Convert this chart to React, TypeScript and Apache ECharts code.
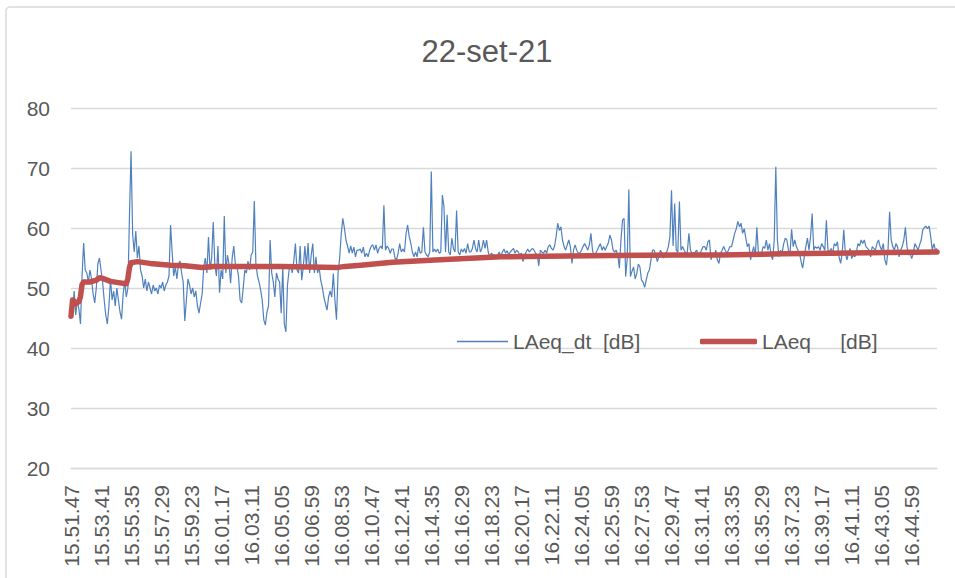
import React, { useEffect, useRef } from "react";
import * as echarts from "echarts";

const titleText = "22-set-21";
const seriesBlueName = "LAeq_dt  [dB]";
const seriesRedName = "LAeq     [dB]";
const STEP = 6; // seconds between blue samples
const TICK_STEP = 114; // seconds between x labels

const tickLabels = [
  "15.51.47", "15.53.41", "15.55.35", "15.57.29", "15.59.23", "16.01.17", "16.03.11", "16.05.05",
  "16.06.59", "16.08.53", "16.10.47", "16.12.41", "16.14.35", "16.16.29", "16.18.23", "16.20.17",
  "16.22.11", "16.24.05", "16.25.59", "16.27.53", "16.29.47", "16.31.41", "16.33.35", "16.35.29",
  "16.37.23", "16.39.17", "16.41.11", "16.43.05", "16.44.59",
];

const laeqDt = [
  48, 46, 49.5, 45.5, 48, 46.5, 44, 52, 57.5, 53, 52.5, 51, 53, 51.5, 49, 47.5, 50, 54, 55,
  53, 51, 48, 45.5, 44, 47, 51.5, 48, 49.5, 47, 50, 48, 46, 44.8, 49, 51, 48.5, 50, 62,
  72.8, 59, 56, 59.5, 55, 57, 53, 52, 50, 51.5, 49.5, 51, 50, 49, 50.5, 49.5, 50, 49, 50.5,
  50, 51, 49.5, 50.5, 51, 52, 60.5, 56, 52, 53.5, 51.5, 54, 54.5, 52.5, 51, 44.5, 48, 51.5, 50.5,
  49, 50, 48.5, 49.5, 47, 45.8, 47.5, 49, 53.5, 55, 52.5, 58.5, 53, 55, 61, 54, 52, 57, 49.2,
  53, 51.5, 62, 52.5, 55.5, 54, 50.8, 55, 57, 54, 53.5, 52, 48, 47.5, 50, 53, 52.5, 54.5, 53,
  55.5, 56, 64.5, 54, 52, 51, 49.7, 48, 44.7, 43.8, 46, 47, 58, 52.5, 51, 48.5, 52.5, 51.5, 51,
  45.8, 53.5, 44, 42.7, 50.5, 53, 54, 52.5, 54.5, 57.4, 53, 52.5, 57, 51.3, 53.5, 57, 53.5, 57.5, 52.5,
  55.5, 57.4, 52.5, 55.2, 52.5, 53.5, 51.3, 50.2, 48.5, 47.4, 46.3, 48.5, 49.5, 48.5, 52.4, 48, 44.7, 52.5, 55,
  59, 61.6, 60, 58, 57, 55.8, 57, 55.8, 56.8, 55.2, 56.3, 56.3, 56.5, 55.8, 56.8, 55.2, 55.8, 55.2, 56.3,
  57, 57.2, 56.3, 57.2, 55.8, 56.6, 57, 56.5, 63.8, 56.3, 57, 56.6, 55.8, 56.5, 56.5, 55, 54.7, 55.8, 57.4,
  56, 56.5, 56, 59, 60.5, 58.6, 57.5, 56, 55.2, 56, 55.2, 56.9, 55.8, 56, 60.1, 56, 55.5, 55.2, 56,
  69.4, 56, 56.5, 56, 56.5, 55.8, 56, 65.5, 63.6, 56, 62.2, 56, 55.5, 58.3, 56.6, 56, 62.9, 56, 55.5,
  56.5, 56, 56.6, 55.8, 57.4, 56, 56, 56.6, 58, 56.6, 56, 58, 56, 56.6, 58, 56.6, 58, 56, 55.2,
  55.8, 55.5, 55.5, 55.2, 55.5, 56, 55.2, 56, 56.5, 55.8, 56.2, 55.5, 56, 56.3, 56.6, 55.8, 56.3, 56, 55.5,
  55.8, 54.4, 55.5, 56, 56.5, 56, 56.3, 56.6, 56.3, 55.8, 55.5, 53.7, 56.3, 56, 55.8, 56.3, 55.8, 56.9, 57.2,
  56.6, 56.3, 57, 58.6, 60.8, 59.6, 60.2, 58, 56.9, 56.3, 57.2, 58, 56.9, 54.1, 56.3, 57.2, 56.3, 55.8, 55.8,
  56.3, 56.9, 57.4, 56.9, 56.3, 57.2, 59.1, 56.3, 55.2, 55.8, 56.3, 56.9, 57.4, 56.3, 56.9, 56.3, 56.9, 57.5, 58.8,
  58, 56.3, 56, 56.3, 55.5, 53.3, 58, 61.3, 61.6, 51.9, 55, 66.4, 51.9, 52.8, 53.5, 51.5, 52.4, 54, 53.5,
  51.3, 51, 50.1, 51.3, 52.5, 53, 54.7, 56.3, 56.3, 55.5, 54.4, 55.2, 56.3, 55.8, 55, 55.8, 56, 56.9, 58.6,
  66.3, 57, 64.1, 56.3, 56, 64.4, 56.3, 56.9, 56.3, 55.8, 56, 59.1, 56.3, 55.8, 55.8, 56, 56.3, 55.2, 55.8,
  56.3, 56.9, 56.9, 56.3, 57.7, 58, 54.7, 55.8, 55.2, 56.3, 54.7, 54.1, 55.8, 56.3, 56.9, 56.3, 55.8, 56.3, 56.9,
  56.9, 58, 59.1, 59.9, 61.1, 60.2, 60.8, 59.1, 59.9, 58.3, 56.9, 57.4, 54.7, 55.8, 56.9, 55.2, 60.1, 55.8, 55.2,
  55.8, 56.9, 56.6, 58, 56.3, 57.4, 55.5, 54.7, 58, 70.2, 58, 55.2, 56.3, 55.8, 57.4, 58.3, 58, 56.3, 55.8,
  59.8, 56.9, 58, 56.9, 56.3, 55.8, 54.4, 53.3, 55.2, 56.9, 58.3, 56.3, 58.6, 62.4, 56.3, 56.9, 56.6, 56.9, 56.3,
  57.4, 56.9, 56.3, 61.3, 56.3, 56, 56.6, 55.8, 57.4, 57, 57.7, 55.2, 54.1, 55.8, 59.7, 55.8, 54.7, 55.8, 56.6,
  54.9, 55.5, 55.2, 56, 57.4, 57, 58, 57.4, 58, 56.9, 56.6, 56.3, 55.2, 56.9, 56.6, 56.3, 57.4, 58, 56.9,
  56.3, 57.4, 54.7, 53.8, 56.3, 62.7, 58, 56.9, 56.3, 57.4, 56.9, 55.2, 56.3, 56.9, 58, 60.1, 56.9, 55.5, 55.8,
  54.9, 55.8, 57.4, 56.9, 56.3, 57.2, 58, 59.7, 60.1, 60.3, 59.9, 60.3, 58.6, 56.3, 57.4, 56.3, 56.6,
];

// LAeq (running average): elapsed seconds and values
const laeqTimes = [
  0, 6, 12, 18, 24, 30, 36, 42, 48, 72, 96, 108, 120, 150, 180, 210, 216, 222, 228, 252, 300, 378,
  432, 498, 540, 660, 800, 1008, 1040, 1100, 1220, 1400, 1632, 1800, 2052, 2300, 2466, 2700, 2886, 3100, 3288,
];
const laeqValues = [
  45.3, 48, 47.8, 47.4, 47.6, 47.7, 48.6, 50.6, 51, 51, 51.3, 51.7, 51.6, 51.1, 50.9, 50.7, 51.6, 53.4, 54.2, 54.4, 54.1, 53.8,
  53.7, 53.4, 53.6, 53.6, 53.6, 53.4, 53.6, 53.8, 54.3, 54.7, 55.2, 55.3, 55.4, 55.5, 55.5, 55.7, 55.8, 55.9, 56,
];

const yMin = 20;
const yMax = 80;
const yInterval = 10;

const FONT = "'Liberation Sans', Arial, sans-serif";
const TEXT = "#595959";
const GRID = "#D9D9D9";
const BLUE = "#4F81BD";
const RED = "#C0504D";

export default function App() {
  const ref = useRef<HTMLDivElement>(null);

  useEffect(() => {
    if (!ref.current) return;
    const chart = echarts.init(ref.current, null, { renderer: "svg" });
    const xMax = (laeqDt.length - 1) * STEP;
    const blueData = laeqDt.map((v, i) => [i * STEP, v]);
    const redData = laeqTimes.map((t, i) => [t, laeqValues[i]]);

    chart.setOption({
      animation: false,
      textStyle: { fontFamily: FONT },
      graphic: [
        {
          type: "rect",
          shape: { x: 6, y: 7, width: 960, height: 590, r: 4 },
          style: { fill: "none", stroke: GRID, lineWidth: 1.5 },
          silent: true,
        },
        {
          type: "text",
          x: 487,
          y: 51,
          style: {
            text: titleText,
            fontSize: 31,
            fontFamily: FONT,
            fill: TEXT,
            align: "center",
            verticalAlign: "middle",
          },
        },
      ],
      grid: { left: 71, right: 18, top: 108, bottom: 110, containLabel: false },
      legend: [
        {
          data: [{ name: seriesBlueName, icon: "rect" }],
          left: 452,
          top: 326,
          itemWidth: 51,
          itemHeight: 1.5,
          itemStyle: { color: BLUE },
          textStyle: { fontSize: 21, color: TEXT, fontFamily: FONT },
          selectedMode: false,
        },
        {
          data: [{ name: seriesRedName, icon: "roundRect" }],
          left: 695,
          top: 326,
          itemWidth: 57,
          itemHeight: 5.5,
          itemStyle: { color: RED },
          textStyle: { fontSize: 21, color: TEXT, fontFamily: FONT },
          selectedMode: false,
        },
      ],
      xAxis: {
        type: "value",
        min: 0,
        max: xMax,
        interval: TICK_STEP,
        axisLine: { show: true, lineStyle: { color: GRID, width: 1.3 } },
        axisTick: { show: false },
        splitLine: { show: false },
        axisLabel: {
          rotate: 90,
          margin: 17,
          fontSize: 21,
          color: TEXT,
          fontFamily: FONT,
          showMaxLabel: false,
          formatter: (v: number) => {
            const k = Math.round(v / TICK_STEP);
            if (Math.abs(v - k * TICK_STEP) > 0.5 || k >= tickLabels.length) return "";
            return tickLabels[k];
          },
        },
      },
      yAxis: {
        type: "value",
        min: yMin,
        max: yMax,
        interval: yInterval,
        axisLine: { show: false },
        axisTick: { show: false },
        splitLine: { show: true, lineStyle: { color: GRID, width: 1.3 } },
        axisLabel: { fontSize: 21, color: TEXT, margin: 21, fontFamily: FONT },
      },
      series: [
        {
          name: seriesBlueName,
          type: "line",
          data: blueData,
          symbol: "none",
          showSymbol: false,
          lineStyle: { color: BLUE, width: 1.2 },
          itemStyle: { color: BLUE },
        },
        {
          name: seriesRedName,
          type: "line",
          data: redData,
          symbol: "none",
          showSymbol: false,
          lineStyle: { color: RED, width: 5.5, cap: "round", join: "round" },
          itemStyle: { color: RED },
        },
      ],
    });

    return () => chart.dispose();
  }, []);

  return (
    <div
      ref={ref}
      style={{ position: "fixed", left: 0, top: 0, width: 955, height: 578, background: "#fff" }}
    />
  );
}
